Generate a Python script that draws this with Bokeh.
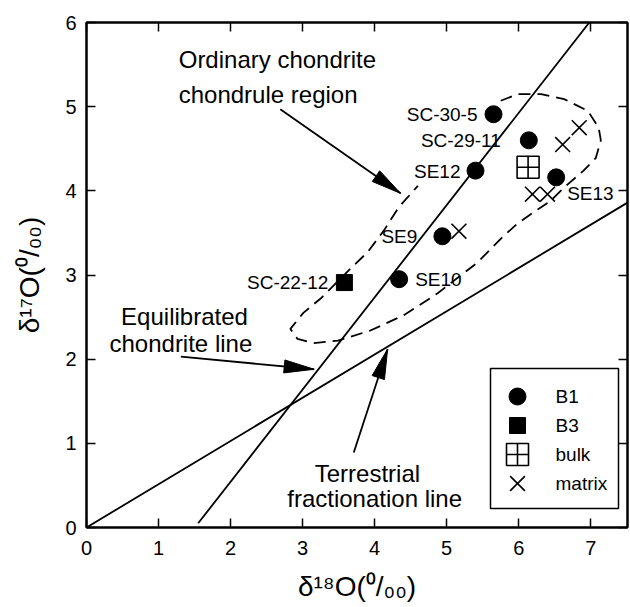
import math

from bokeh.core.properties import value
from bokeh.embed import file_html
from bokeh.models import ColumnDataSource, FixedTicker, Label, LinearAxis, Range1d
from bokeh.plotting import figure
from bokeh.resources import INLINE

FONT = "Liberation Sans"

# ---- measured oxygen isotope compositions (per mil) ----
b1_names = ["SC-30-5", "SC-29-11", "SE12", "SE13", "SE9", "SE10"]
b1_d18o = [5.65, 6.14, 5.40, 6.52, 4.94, 4.34]
b1_d17o = [4.91, 4.60, 4.24, 4.16, 3.46, 2.95]

b3_names = ["SC-22-12"]
b3_d18o = [3.58]
b3_d17o = [2.91]

bulk_d18o = [6.13]
bulk_d17o = [4.28]

matrix_d18o = [6.84, 6.61, 6.19, 6.40, 5.17]
matrix_d17o = [4.75, 4.55, 3.96, 3.96, 3.52]

legend_labels = ["B1", "B3", "bulk", "matrix"]

x_ticks = [0, 1, 2, 3, 4, 5, 6, 7]
y_ticks = [0, 1, 2, 3, 4, 5, 6]

# reference lines (end points)
tfl_x = [0.0, 7.51]
tfl_y = [0.0, 3.86]
ecl_x = [1.55, 6.98]
ecl_y = [0.05, 6.0]

# outline of the ordinary chondrite chondrule field (open at the upper left)
region_x = [5.75, 5.99, 6.31, 6.63, 6.96, 7.11, 7.14, 7.07, 6.90, 6.63, 6.44,
            6.30, 5.98, 5.75, 5.43, 4.87, 4.40, 3.94, 3.49, 3.15, 2.93, 2.83,
            3.01, 3.25, 3.67, 3.90, 4.13, 4.33, 4.60]
region_y = [5.07, 5.15, 5.15, 5.09, 4.95, 4.75, 4.60, 4.39, 4.24, 4.04, 3.88,
            3.80, 3.61, 3.43, 3.15, 2.78, 2.52, 2.34, 2.22, 2.19, 2.24, 2.36,
            2.55, 2.72, 3.08, 3.27, 3.53, 3.80, 4.06]

# annotation arrows: tail -> tip
arrow_x0 = [2.69, 1.31, 3.71]
arrow_y0 = [4.97, 2.03, 0.89]
arrow_x1 = [4.36, 3.16, 4.18]
arrow_y1 = [3.97, 1.88, 2.12]

X_MAX, Y_MAX = 7.51, 6.0
FRAME_W, FRAME_H = 541, 505
SX = FRAME_W / X_MAX
SY = FRAME_H / Y_MAX

p = figure(frame_width=FRAME_W, frame_height=FRAME_H,
           x_range=Range1d(0, X_MAX), y_range=Range1d(0, Y_MAX),
           output_backend="svg", toolbar_location=None,
           min_border_left=86, min_border_right=3,
           min_border_top=22, min_border_bottom=80,
           background_fill_color="white", border_fill_color="white")
p.grid.visible = False
p.outline_line_color = "black"
p.outline_line_width = 2


def style_axis(ax, ticks, labels=True):
    ax.ticker = FixedTicker(ticks=ticks)
    ax.major_tick_in = 9
    ax.major_tick_out = 0
    ax.minor_tick_in = 0
    ax.minor_tick_out = 0
    ax.major_tick_line_width = 1.5
    ax.major_tick_line_color = "black"
    ax.axis_line_color = "black"
    ax.axis_line_width = 2
    if labels:
        ax.major_label_text_font = FONT
        ax.major_label_text_font_size = "20px"
        ax.major_label_text_color = "black"
        ax.axis_label_text_font = FONT
        ax.axis_label_text_font_style = "normal"
        ax.axis_label_text_font_size = "28px"
        ax.axis_label_text_color = "black"
    else:
        ax.major_label_text_font_size = "0px"
        ax.major_label_text_color = None
        ax.major_label_standoff = 0


style_axis(p.xaxis[0], x_ticks)
p.xaxis[0].axis_label = "δ¹⁸O(⁰/₀₀)"
p.xaxis[0].major_label_standoff = 13
p.xaxis[0].axis_label_standoff = 13

style_axis(p.yaxis[0], y_ticks)
p.yaxis[0].axis_label = "δ¹⁷O(⁰/₀₀)"
p.yaxis[0].major_label_standoff = 10
p.yaxis[0].axis_label_standoff = 17

top_axis = LinearAxis()
style_axis(top_axis, x_ticks, labels=False)
p.add_layout(top_axis, "above")
right_axis = LinearAxis()
style_axis(right_axis, y_ticks, labels=False)
p.add_layout(right_axis, "right")

# reference lines
p.line(tfl_x, tfl_y, line_color="black", line_width=1.8)
p.line(ecl_x, ecl_y, line_color="black", line_width=1.8)

# chondrule field
p.line(region_x, region_y, line_color="black", line_width=1.8, line_dash="12 7")


# arrows with long, narrow filled heads (built in screen proportions)
def head(x0, y0, x1, y1, length=30.0, width=13.0):
    dx, dy = (x1 - x0) * SX, (y1 - y0) * SY
    n = math.hypot(dx, dy)
    ux, uy = dx / n, dy / n
    tx, ty = x1 * SX, y1 * SY
    bx, by = tx - ux * length, ty - uy * length
    nx, ny = -uy, ux
    xs = [tx, bx + nx * width / 2, bx - nx * width / 2]
    ys = [ty, by + ny * width / 2, by - ny * width / 2]
    return [v / SX for v in xs], [v / SY for v in ys]


p.segment(arrow_x0, arrow_y0, arrow_x1, arrow_y1, line_color="black", line_width=1.8)
heads = [head(a, b, c, d) for a, b, c, d in zip(arrow_x0, arrow_y0, arrow_x1, arrow_y1)]
p.patches([h[0] for h in heads], [h[1] for h in heads],
          fill_color="black", line_color="black", line_width=1)

# marker styles shared by the samples and the key
STYLES = {
    "B1": dict(marker="circle", size=17, fill_color="black", line_color="black"),
    "B3": dict(marker="square", size=16, fill_color="black", line_color="black"),
    "bulk": dict(marker="square_cross", size=22, fill_color=None,
                 line_color="black", line_width=1.6),
    "matrix": dict(marker="x", size=21, line_color="black", line_width=1.6),
}

p.scatter(b1_d18o, b1_d17o, **STYLES["B1"])
p.scatter(b3_d18o, b3_d17o, **STYLES["B3"])
p.scatter(bulk_d18o, bulk_d17o, **STYLES["bulk"])
p.scatter(matrix_d18o, matrix_d17o, **STYLES["matrix"])

# sample names
names_src = ColumnDataSource(dict(
    x=b1_d18o + b3_d18o,
    y=b1_d17o + b3_d17o,
    name=b1_names + b3_names,
    align=["right", "right", "right", "left", "right", "left", "right"],
    xoff=[-16, -28, -15, 11, -25, 16, -16],
    yoff=[0, 0, 1, 16, 0, 0, 0],
))
p.text("x", "y", text="name", source=names_src, text_align="align",
       x_offset="xoff", y_offset="yoff", text_baseline="middle",
       text_font=value(FONT), text_font_size="19px", text_color="black")

# explanatory notes
notes = [
    ("Ordinary chondrite", 1.28, 5.56, "left"),
    ("chondrule region", 1.28, 5.15, "left"),
    ("Equilibrated", 1.36, 2.51, "center"),
    ("chondrite line", 1.31, 2.19, "center"),
    ("Terrestrial", 3.90, 0.64, "center"),
    ("fractionation line", 4.00, 0.34, "center"),
]
for txt, nx, ny, al in notes:
    p.add_layout(Label(x=nx, y=ny, text=txt, text_align=al,
                       text_baseline="alphabetic", text_font=FONT,
                       text_font_size="24px", text_color="black"))


# key box in the lower right corner; placed in pixels from the frame's
# top-left corner and converted to data units
def fx(px):
    return px / SX


def fy(py):
    return Y_MAX - py / SY


KEY_LEFT, KEY_RIGHT, KEY_TOP, KEY_BOTTOM = 404, 532, 346, 486
KEY_MARK_X, KEY_TEXT_X = 431, 469
KEY_ROW0, KEY_ROW_STEP = 374, 29

p.quad(left=[fx(KEY_LEFT)], right=[fx(KEY_RIGHT)], top=[fy(KEY_TOP)],
       bottom=[fy(KEY_BOTTOM)], fill_color="white", line_color="black",
       line_width=1.5)
for i, lab in enumerate(legend_labels):
    row_y = fy(KEY_ROW0 + i * KEY_ROW_STEP)
    p.scatter([fx(KEY_MARK_X)], [row_y], **STYLES[lab])
    p.text([fx(KEY_TEXT_X)], [row_y], text=[lab], text_align="left",
           text_baseline="middle", text_font=value(FONT),
           text_font_size="19px", text_color="black")

open("out.html", "w").write(file_html(p, INLINE))
